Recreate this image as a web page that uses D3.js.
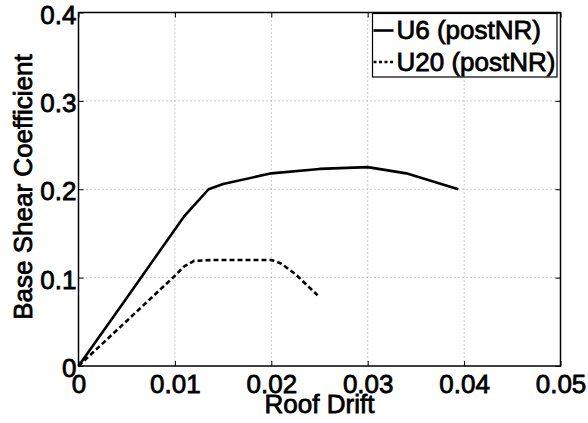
<!DOCTYPE html>
<html>
<head>
<meta charset="utf-8">
<script src="https://cdn.jsdelivr.net/npm/d3@7"></script>
<style>
  body { margin: 0; background: #fff; }
  text {
    font-family: "Liberation Sans", Arial, Helvetica, sans-serif;
    font-size: 26px;
    fill: #000;
    stroke: #000;
    stroke-width: 0.8px;
  }
</style>
</head>
<body>
<div id="chart"></div>
<script>
const MARGIN = { LEFT: 78.5, RIGHT: 27.5, TOP: 12.5, BOTTOM: 57 };
const WIDTH = 588 - MARGIN.LEFT - MARGIN.RIGHT;
const HEIGHT = 423 - MARGIN.TOP - MARGIN.BOTTOM;

// pushover curves: roof drift vs base shear coefficient
const driftU6 = [0, 0.005, 0.011, 0.0125, 0.0135, 0.015, 0.02, 0.025, 0.03, 0.034, 0.0394];
const shearU6 = [0, 0.077, 0.17, 0.188, 0.2, 0.206, 0.218, 0.223, 0.225, 0.218, 0.2];
const driftU20 = [0, 0.005, 0.0098, 0.011, 0.012, 0.014, 0.02, 0.021, 0.0225, 0.0248];
const shearU20 = [0, 0.051, 0.1, 0.113, 0.119, 0.12, 0.12, 0.116, 0.104, 0.08];

const xTicks = [0, 0.01, 0.02, 0.03, 0.04, 0.05];
const xTickLabels = ["0", "0.01", "0.02", "0.03", "0.04", "0.05"];
const yTicks = [0, 0.1, 0.2, 0.3, 0.4];
const yTickLabels = ["0", "0.1", "0.2", "0.3", "0.4"];

const seriesNames = ["U6 (postNR)", "U20 (postNR)"];

const svg = d3
  .select("#chart")
  .append("svg")
  .attr("width", 588)
  .attr("height", 423);

const g = svg
  .append("g")
  .attr("transform", `translate(${MARGIN.LEFT}, ${MARGIN.TOP})`);

const x = d3.scaleLinear().domain([0, 0.05]).range([0, WIDTH]);
const y = d3.scaleLinear().domain([0, 0.4]).range([HEIGHT, 0]);

// dotted grid
const grid = g.append("g").attr("class", "grid");
grid
  .selectAll(".vgrid")
  .data(xTicks.slice(1, -1))
  .enter()
  .append("line")
  .attr("x1", (d) => x(d))
  .attr("x2", (d) => x(d))
  .attr("y1", 0)
  .attr("y2", HEIGHT);
grid
  .selectAll(".hgrid")
  .data(yTicks.slice(1, -1))
  .enter()
  .append("line")
  .attr("x1", 0)
  .attr("x2", WIDTH)
  .attr("y1", (d) => y(d))
  .attr("y2", (d) => y(d));
grid
  .selectAll("line")
  .attr("stroke", "#999")
  .attr("stroke-width", 1)
  .attr("stroke-dasharray", "1,3");

// axes, ticks pointing inwards on all four sides
const xAxis = g
  .append("g")
  .attr("transform", `translate(0, ${HEIGHT})`)
  .call(
    d3.axisBottom(x)
      .tickValues(xTicks)
      .tickSize(-5)
      .tickSizeOuter(0)
      .tickFormat((d, i) => xTickLabels[i])
  );
xAxis.selectAll("text").attr("y", 27).attr("dy", 0);

const yAxis = g
  .append("g")
  .call(
    d3.axisLeft(y)
      .tickValues(yTicks)
      .tickSize(-5)
      .tickSizeOuter(0)
      .tickFormat((d, i) => yTickLabels[i])
  );
yAxis.selectAll("text").attr("x", -2).attr("dy", 0).attr("y", 10.5);

g.append("g")
  .call(d3.axisTop(x).tickValues(xTicks).tickSize(-5).tickSizeOuter(0).tickFormat(""));
g.append("g")
  .attr("transform", `translate(${WIDTH}, 0)`)
  .call(d3.axisRight(y).tickValues(yTicks).tickSize(-5).tickSizeOuter(0).tickFormat(""));

g.selectAll(".domain").remove();
g.selectAll(".tick line").attr("stroke", "#000").attr("stroke-width", 1);
// d3 axes set their own font; fall back to the page style
g.selectAll("g").attr("font-size", null).attr("font-family", null);

// frame
g.append("rect")
  .attr("x", 0)
  .attr("y", 0)
  .attr("width", WIDTH)
  .attr("height", HEIGHT)
  .attr("fill", "none")
  .attr("stroke", "#000")
  .attr("stroke-width", 1.5);

// axis titles
g.append("text")
  .attr("x", WIDTH / 2)
  .attr("y", HEIGHT + 47)
  .attr("text-anchor", "middle")
  .text("Roof Drift");

g.append("text")
  .attr("transform", "rotate(-90)")
  .attr("x", -174.5)
  .attr("y", 32 - MARGIN.LEFT)
  .attr("text-anchor", "middle")
  .text("Base Shear Coefficient");

// curves
const line = d3
  .line()
  .x((d) => x(d[0]))
  .y((d) => y(d[1]));

g.append("path")
  .attr("fill", "none")
  .attr("stroke", "#000")
  .attr("stroke-width", 2.6)
  .attr("stroke-linejoin", "round")
  .attr("d", line(d3.zip(driftU6, shearU6)));

g.append("path")
  .attr("fill", "none")
  .attr("stroke", "#000")
  .attr("stroke-width", 2.6)
  .attr("stroke-dasharray", "5,3")
  .attr("d", line(d3.zip(driftU20, shearU20)));

// legend
const legend = svg.append("g").attr("transform", "translate(372.5, 13.5)");
legend
  .append("rect")
  .attr("width", 184.5)
  .attr("height", 63.5)
  .attr("fill", "#fff")
  .attr("stroke", "#000")
  .attr("stroke-width", 1.2);

const dashes = ["none", "3,2.5"];
seriesNames.forEach((name, i) => {
  const row = legend.append("g").attr("transform", `translate(0, ${17 + i * 31.5})`);
  row
    .append("line")
    .attr("x1", 1)
    .attr("x2", 21)
    .attr("y1", 0)
    .attr("y2", 0)
    .attr("stroke", "#000")
    .attr("stroke-width", 2.6)
    .attr("stroke-dasharray", dashes[i]);
  row
    .append("text")
    .attr("x", 24)
    .attr("y", 8.5)
    .text(name);
});
</script>
</body>
</html>
